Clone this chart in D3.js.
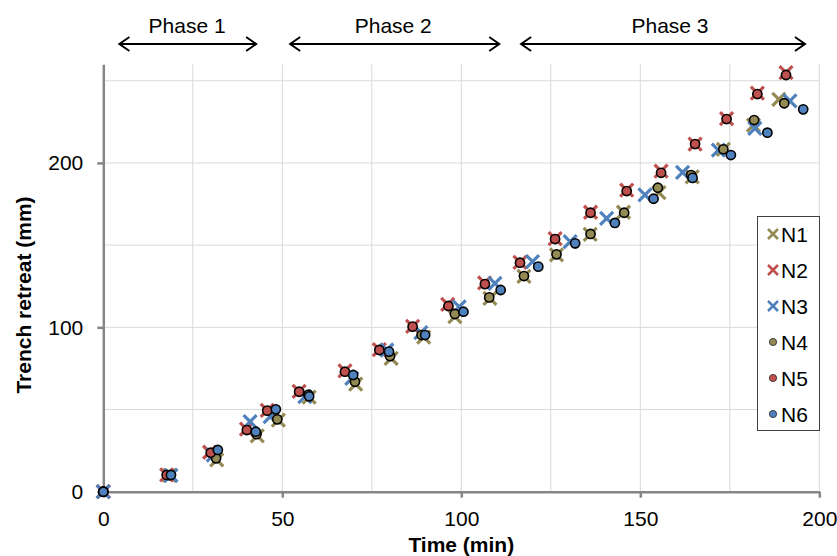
<html>
<head>
    <script src="https://d3js.org/d3.v7.min.js"></script>
</head>
<style>
    body { margin: 0; background: #fff; }
    text { font-family: "Liberation Sans", Arial, sans-serif; }
</style>
<body>
<svg width="837" height="556"></svg>
<script>

    // time (min) and trench retreat (mm) per series
    var n1T = [0, 18.5, 31.7, 43.0, 48.9, 57.5, 70.5, 80.4, 89.5, 98.2, 108.0, 117.5, 126.6, 136.0, 145.3, 155.2, 164.5, 173.2, 181.6, 188.7];
    var n1Y = [0, 10, 19.3, 34, 43.6, 57.5, 65.5, 81.1, 94, 106.5, 117.6, 131, 144, 156.5, 170, 182, 191.5, 208.3, 223, 238.6];
    var n2T = [0, 17.7, 29.7, 40.0, 45.8, 54.7, 67.5, 77.1, 86.4, 96.2, 106.5, 116.4, 126.2, 136.1, 146.2, 155.8, 165.3, 174.1, 182.7, 190.7];
    var n2Y = [0, 10.2, 24, 38, 49.5, 61, 73.5, 86.5, 100.5, 114, 127, 139.5, 154, 170, 183.5, 195, 211.5, 227, 242.5, 255];
    var n3T = [0, 18.9, 30.7, 41.0, 46.6, 56.3, 69.4, 79.2, 88.7, 99.4, 109.4, 119.9, 130.4, 140.6, 151.3, 161.8, 171.8, 182.0, 191.8];
    var n3Y = [0, 10, 22.3, 42.6, 45.6, 57.8, 69.0, 86.2, 96.7, 112.5, 126.8, 139.9, 152.1, 166.3, 180.5, 194.2, 207.8, 221.0, 237.8];
    var n4T = [0, 18.5, 31.5, 42.8, 48.6, 57.3, 70.3, 80.1, 88.9, 98.2, 107.8, 117.5, 126.6, 136.1, 145.5, 154.9, 164.2, 173.2, 181.8, 190.2];
    var n4Y = [0, 10, 20.3, 35, 44.0, 59.0, 66.9, 82.5, 95.3, 108.1, 118.2, 131.2, 144.4, 156.8, 169.7, 184.9, 192.6, 208.3, 226.1, 236.3];
    var n5T = [0, 17.7, 30.0, 40.1, 45.8, 54.7, 67.5, 77.1, 86.4, 96.4, 106.6, 116.4, 126.2, 136.1, 146.2, 155.8, 165.3, 174.1, 182.7, 190.7];
    var n5Y = [0, 10.2, 23.7, 37.5, 49.3, 60.8, 73.0, 86.2, 100.4, 113.0, 126.3, 139.3, 153.7, 169.7, 182.9, 194.0, 211.5, 226.7, 241.9, 253.5];
    var n6T = [0, 18.9, 32.0, 42.6, 48.2, 57.5, 69.8, 79.8, 89.9, 100.6, 111.0, 121.5, 131.8, 142.9, 153.7, 164.6, 175.3, 185.5, 195.5];
    var n6Y = [0, 10.2, 25.4, 36.5, 50.1, 58.0, 71.0, 85.2, 95.3, 109.5, 122.7, 136.9, 151.1, 163.5, 178.2, 190.9, 204.8, 218.4, 232.6];

    var seriesNames = ["N1", "N2", "N3", "N4", "N5", "N6"];
    var xTicks = [0, 50, 100, 150, 200];
    var yTicks = [0, 100, 200];

    var phaseNames = ["Phase 1", "Phase 2", "Phase 3"];
    var phaseStart = [4.5, 52.2, 116.7];
    var phaseEnd = [42.7, 110.6, 196.0];
    var phaseLabelX = [23.4, 81, 158.3];

    var olive = "#948a54", red = "#c0504d", blue = "#4f81bd";

    var series = [
        { name: "N1", t: n1T, v: n1Y, shape: "x", color: olive },
        { name: "N2", t: n2T, v: n2Y, shape: "x", color: red },
        { name: "N3", t: n3T, v: n3Y, shape: "x", color: blue },
        { name: "N4", t: n4T, v: n4Y, shape: "o", color: olive },
        { name: "N5", t: n5T, v: n5Y, shape: "o", color: red },
        { name: "N6", t: n6T, v: n6Y, shape: "o", color: blue }
    ];

    var svg = d3.select("svg");
    svg.append("rect").attr("width", 837).attr("height", 556).attr("fill", "#fff");

    var xScale = d3.scaleLinear().domain([0, 200]).range([103.3, 819.3]),
        yScale = d3.scaleLinear().domain([0, 260]).range([491.7, 64.3]);

    // grid
    svg.append("g").selectAll("line")
        .data(d3.range(50, 251, 50))
        .enter().append("line")
        .attr("x1", xScale(0)).attr("x2", xScale(200))
        .attr("y1", function(d) { return yScale(d); })
        .attr("y2", function(d) { return yScale(d); })
        .attr("stroke", "#d9d9d9").attr("stroke-width", 1);

    svg.append("g").selectAll("line")
        .data(d3.range(25, 201, 25))
        .enter().append("line")
        .attr("y1", yScale(0)).attr("y2", yScale(260))
        .attr("x1", function(d) { return xScale(d); })
        .attr("x2", function(d) { return xScale(d); })
        .attr("stroke", "#d9d9d9").attr("stroke-width", 1);

    // axes
    var xAxis = svg.append("g")
        .attr("transform", "translate(0," + yScale(0) + ")")
        .call(d3.axisBottom(xScale).tickValues(xTicks).tickSize(6).tickSizeOuter(0).tickPadding(13));

    var yAxis = svg.append("g")
        .attr("transform", "translate(" + xScale(0) + ",0)")
        .call(d3.axisLeft(yScale).tickValues(yTicks).tickSize(6).tickSizeOuter(0).tickPadding(14));

    [xAxis, yAxis].forEach(function(a) {
        a.select(".domain").attr("stroke", "#868686").attr("stroke-width", 2.5);
        a.selectAll(".tick line").attr("stroke", "#868686").attr("stroke-width", 2.5);
        a.selectAll(".tick text").attr("font-size", 21).attr("fill", "#000")
            .style("font-family", "'Liberation Sans', Arial, sans-serif");
    });

    svg.append("text")
        .attr("x", xScale(100)).attr("y", 552)
        .attr("text-anchor", "middle")
        .attr("font-size", 21).attr("font-weight", "bold")
        .text("Time (min)");

    svg.append("text")
        .attr("transform", "translate(31," + 295 + ") rotate(-90)")
        .attr("text-anchor", "middle")
        .attr("font-size", 21).attr("font-weight", "bold")
        .text("Trench retreat (mm)");

    // phase arrows
    var ph = svg.append("g");
    phaseNames.forEach(function(p, i) {
        var a = xScale(phaseStart[i]), b = xScale(phaseEnd[i]), y = 44;
        ph.append("path")
            .attr("d", "M" + a + "," + y + "L" + b + "," + y +
                "M" + (a + 10) + "," + (y - 7) + "L" + a + "," + y + "L" + (a + 10) + "," + (y + 7) +
                "M" + (b - 10) + "," + (y - 7) + "L" + b + "," + y + "L" + (b - 10) + "," + (y + 7))
            .attr("fill", "none").attr("stroke", "#000").attr("stroke-width", 2);
        ph.append("text")
            .attr("x", xScale(phaseLabelX[i])).attr("y", 33)
            .attr("text-anchor", "middle")
            .attr("font-size", 21)
            .text(p);
    });

    function crossPath(x, y, s) {
        return "M" + (x - s) + "," + (y - s) + "L" + (x + s) + "," + (y + s) +
               "M" + (x - s) + "," + (y + s) + "L" + (x + s) + "," + (y - s);
    }

    // markers
    series.forEach(function(s) {
        var pts = s.t.map(function(t, i) { return [t, s.v[i]]; });
        var g = svg.append("g");
        if (s.shape === "x") {
            g.selectAll("path").data(pts).enter().append("path")
                .attr("d", function(d) { return crossPath(xScale(d[0]), yScale(d[1]), 6.5); })
                .attr("stroke", s.color).attr("stroke-width", 3.2).attr("fill", "none");
        } else {
            g.selectAll("circle").data(pts).enter().append("circle")
                .attr("cx", function(d) { return xScale(d[0]); })
                .attr("cy", function(d) { return yScale(d[1]); })
                .attr("r", 4.6)
                .attr("fill", s.color).attr("stroke", "#000").attr("stroke-width", 1.6);
        }
    });

    // legend
    var lg = svg.append("g");
    lg.append("rect")
        .attr("x", 757.5).attr("y", 216.5).attr("width", 62).attr("height", 214)
        .attr("fill", "#fff").attr("stroke", "#404040").attr("stroke-width", 1);
    series.forEach(function(s, i) {
        var y = 234 + i * 36, x = 773;
        if (s.shape === "x") {
            lg.append("path").attr("d", crossPath(x, y, 5))
                .attr("stroke", s.color).attr("stroke-width", 2.6).attr("fill", "none");
        } else {
            lg.append("circle").attr("cx", x).attr("cy", y).attr("r", 3.6)
                .attr("fill", s.color).attr("stroke", "#222").attr("stroke-width", 0.8);
        }
        lg.append("text").attr("x", 781).attr("y", y + 7.5)
            .attr("font-size", 21).text(s.name);
    });
</script>
</body>
</html>
